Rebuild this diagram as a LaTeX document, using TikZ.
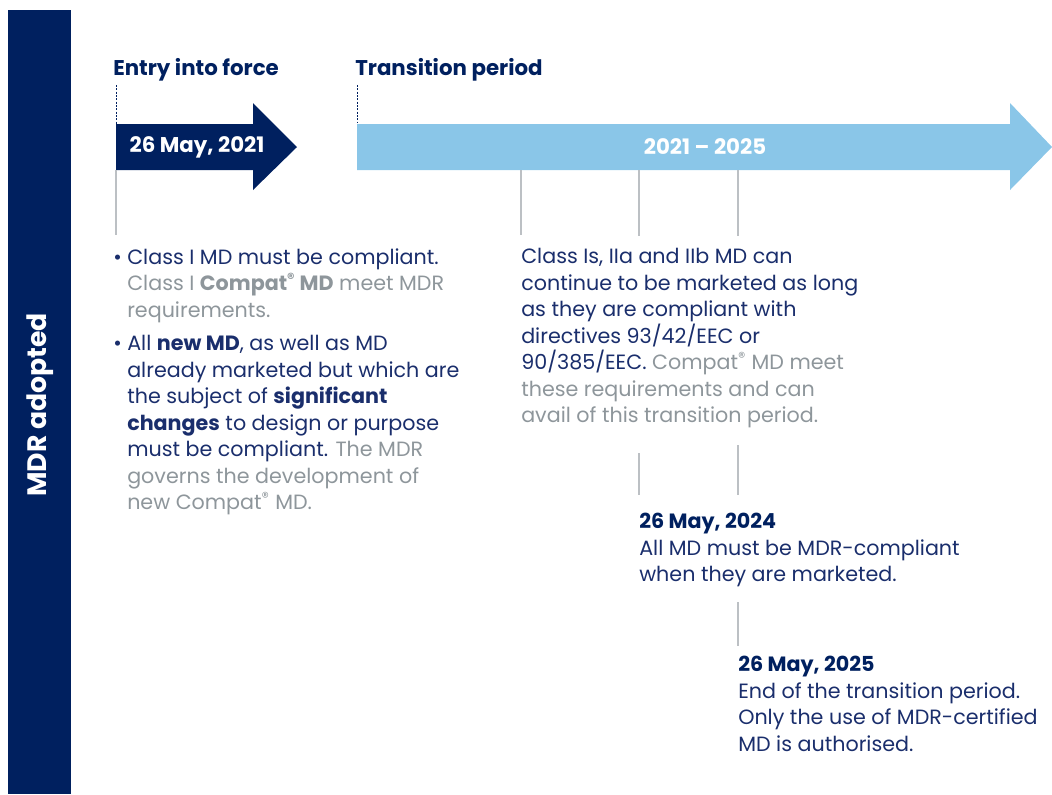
\documentclass[tikz,border=0pt]{standalone}
\usepackage{fontspec}
\setmainfont{Poppins}
\usetikzlibrary{positioning}

\definecolor{navy}{HTML}{00205F}
\definecolor{inkblue}{HTML}{1A2E6C}
\definecolor{skyblue}{HTML}{8AC6E8}
\definecolor{softgray}{HTML}{8E969B}
\definecolor{rulegray}{HTML}{BCC0C4}

\newcommand{\compat}{Compat\textsuperscript{®}}
\newcommand{\bulletmark}{\llap{•\hspace{4pt}}}

\tikzset{
  body/.style={anchor=north west, inner sep=0pt, align=left, text=inkblue,
    font=\fontsize{15.5}{19.9}\selectfont},
  heading/.style={anchor=base west, inner sep=0pt, text=navy,
    font=\fontsize{16}{18}\selectfont\bfseries},
  onarrow/.style={inner sep=0pt, text=white, font=\fontsize{16}{18}\selectfont\bfseries},
  tick/.style={rulegray, line width=1.3pt},
  lead/.style={navy, line width=0.6pt, dash pattern=on 1.5pt off 1pt},
}

\begin{document}
\begin{tikzpicture}[x=0.75pt,y=0.75pt,yscale=-1]
\useasboundingbox (0,0) rectangle (1052,794);

% side band
\fill[navy] (8,10) rectangle (71,794);
\node[rotate=90, text=white, font=\fontsize{20}{22}\selectfont\bfseries] (adopted) at (40,405) {MDR adopted};

% arrows
\fill[navy] (116,124) -- (253,124) -- (253,103) -- (297,147) -- (253,190) -- (253,170) -- (116,170) -- cycle;
\fill[skyblue] (357,124) -- (1010,124) -- (1010,103) -- (1052,147) -- (1010,190) -- (1010,170) -- (357,170) -- cycle;
\node[onarrow] (start) at (197,147) {26 May, 2021};
\node[onarrow] (span) at (705,147) {2021 – 2025};

% headings
\node[heading] (entry) at (113,75) {Entry into force};
\node[heading] (transition) at (355,75) {Transition period};
\coordinate (entrylead) at (116,85);
\coordinate (translead) at (357,85);
\draw[lead] (entrylead) -- (entrylead |- 0,124);
\draw[lead] (translead) -- (translead |- 0,122);

% text blocks
\node[body] (classI) at (127,248) {\bulletmark Class I MD must be compliant.\\
  \textcolor{softgray}{Class I \textbf{\compat{} MD} meet MDR}\\
  \textcolor{softgray}{requirements.}};
\node[body] (newmd) at (127,335) {\bulletmark All \textbf{new MD}, as well as MD\\
  already marketed but which are\\
  the subject of \textbf{significant}\\
  \textbf{changes} to design or purpose\\
  must be compliant. \textcolor{softgray}{The MDR}\\
  \textcolor{softgray}{governs the development of}\\
  \textcolor{softgray}{new \compat{} MD.}};

\node[body] (legacy) at (521,248) {Class Is, IIa and IIb MD can\\
  continue to be marketed as long\\
  as they are compliant with\\
  directives 93/42/EEC or\\
  90/385/EEC. \textcolor{softgray}{\compat{} MD meet}\\
  \textcolor{softgray}{these requirements and can}\\
  \textcolor{softgray}{avail of this transition period.}};

\node[body] (may24) at (639,513) {\textbf{\textcolor{navy}{26 May, 2024}}\\
  All MD must be MDR-compliant\\
  when they are marketed.};

\node[body] (may25) at (738,656) {\textbf{\textcolor{navy}{26 May, 2025}}\\
  End of the transition period.\\
  Only the use of MDR-certified\\
  MD is authorised.};

% ticks down to the texts
\coordinate (t1) at (116,170);
\coordinate (t2) at (521,170);
\coordinate (t3) at (639,170);
\coordinate (t4) at (738,170);
\draw[tick] (t1) -- (t1 |- 0,235);
\draw[tick] (t2) -- (t2 |- 0,235);
\draw[tick] (t3) -- (t3 |- 0,236);
\draw[tick] (t4) -- (t4 |- 0,236);
\draw[tick] (639,453) -- (639,495);
\draw[tick] (738,445) -- (738,495);
\draw[tick] (738,602) -- (738,646);

\end{tikzpicture}
\end{document}
